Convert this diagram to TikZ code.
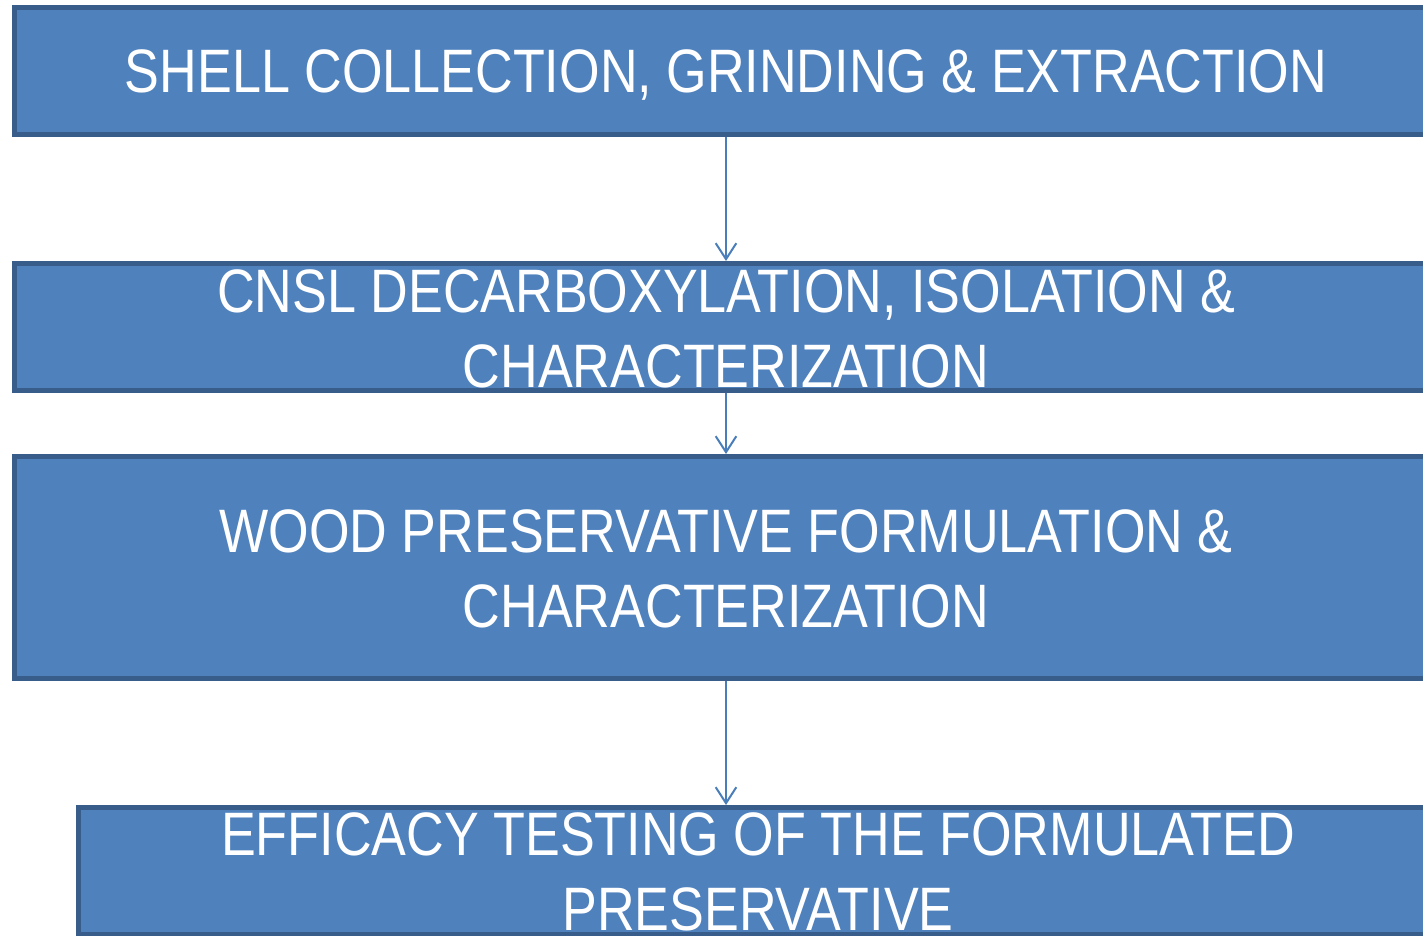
\documentclass[tikz,border=0pt]{standalone}
\usepackage{fontspec}
\newfontfamily\boxfont[FakeStretch=0.85]{Liberation Sans}
\usetikzlibrary{arrows.meta}
\definecolor{stepfill}{HTML}{4F81BD}
\definecolor{stepline}{HTML}{385D8A}
\definecolor{flowline}{HTML}{4A7EBB}
\tikzset{
  stepbox/.style={draw=stepline, line width=3.75pt, fill=stepfill, rectangle,
    inner sep=0pt, anchor=north west},
  steptext/.style={text=white, align=center, inner sep=0pt,
    font=\boxfont\fontsize{46pt}{56.25pt}\selectfont},
  flow/.style={draw=flowline, line width=1.5pt,
    -{Straight Barb[length=12pt, width=15.5pt, line width=1.5pt]}}
}
\begin{document}
\begin{tikzpicture}[x=0.75pt, y=-0.75pt]
  \useasboundingbox (0,0) rectangle (1423,935);
  \clip (0,0) rectangle (1423,935);
  % process boxes (they run past the right and bottom edges)
  \node[stepbox, minimum width=1425.5*0.75pt, minimum height=127*0.75pt] (b1) at (12,5) {};
  \node[stepbox, minimum width=1425.5*0.75pt, minimum height=127*0.75pt] (b2) at (12,261) {};
  \node[stepbox, minimum width=1425.5*0.75pt, minimum height=222*0.75pt] (b3) at (12,454) {};
  \node[stepbox, minimum width=1361.5*0.75pt, minimum height=127*0.75pt] (b4) at (76,805) {};
  % labels
  \node[steptext] (t1) at (726,75) {SHELL COLLECTION, GRINDING \& EXTRACTION};
  \node[steptext] (t2) at (726,329) {CNSL DECARBOXYLATION, ISOLATION \&\\CHARACTERIZATION};
  \node[steptext] (t3) at (726,569) {WOOD PRESERVATIVE FORMULATION \&\\CHARACTERIZATION};
  \node[steptext] (t4) at (758,872) {EFFICACY TESTING OF THE FORMULATED\\PRESERVATIVE};
  % connectors
  \coordinate (a1) at (726,137);
  \coordinate (a2) at (726,393);
  \coordinate (a3) at (726,681);
  \draw[flow] (a1) -- (a1 |- b2.north);
  \draw[flow] (a2) -- (a2 |- b3.north);
  \draw[flow] (a3) -- (a3 |- b4.north);
\end{tikzpicture}
\end{document}
